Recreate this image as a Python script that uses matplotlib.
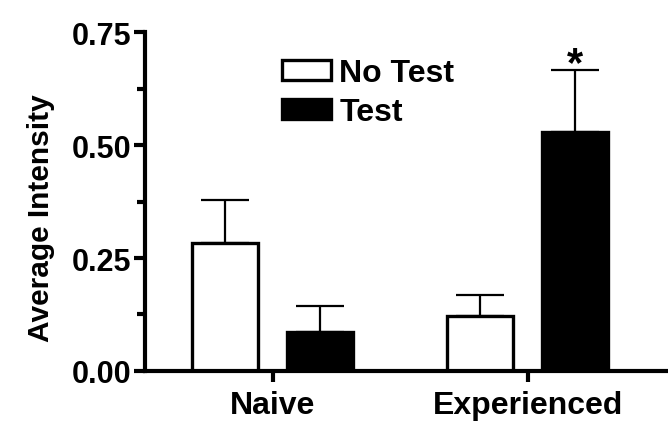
import matplotlib
import matplotlib.pyplot as plt
import numpy as np

matplotlib.use("Agg")

groups = ["Naive", "Experienced"]
no_test = [0.283, 0.122]
no_test_err = [0.095, 0.046]
test = [0.086, 0.529]
test_err = [0.058, 0.137]

plt.rcParams["font.family"] = ["Liberation Sans", "DejaVu Sans"]
plt.rcParams["font.weight"] = "bold"

fig = plt.figure(figsize=(6.68, 4.31), dpi=100)
ax = fig.add_axes([0.217, 0.137, 0.783, 0.786])

x = np.arange(len(groups))
w = 0.26
off = 0.186
err_kw = dict(ecolor="black", elinewidth=1.6, capsize=17, capthick=1.6)

ax.bar(x - off, no_test, w, color="white", edgecolor="black", linewidth=2.4,
       yerr=[[0] * len(groups), no_test_err], error_kw=err_kw, label="No Test", zorder=2)
ax.bar(x + off, test, w, color="black", edgecolor="black", linewidth=2.4,
       yerr=[[0] * len(groups), test_err], error_kw=err_kw, label="Test", zorder=2)

# significance marker
ax.text(x[1] + off, test[1] + test_err[1] - 0.03, "*", ha="center", va="bottom",
        fontsize=30, fontweight="bold")

ax.set_xlim(-0.5, 1.55)
ax.set_ylim(0, 0.75)
ax.set_yticks([0, 0.25, 0.5, 0.75])
ax.set_yticklabels(["0.00", "0.25", "0.50", "0.75"])
ax.set_yticks([0.125, 0.375, 0.625], minor=True)
ax.set_xticks(x)
ax.set_xticklabels(groups)

for side in ["top", "right"]:
    ax.spines[side].set_visible(False)
for side in ["left", "bottom"]:
    ax.spines[side].set_linewidth(3)
    ax.spines[side].set_capstyle("projecting")

ax.tick_params(axis="y", which="major", length=8, width=3, labelsize=22, pad=2)
ax.tick_params(axis="y", which="minor", length=6, width=3)
ax.tick_params(axis="x", length=8, width=3, labelsize=23, pad=6)
for lab in ax.get_xticklabels() + ax.get_yticklabels():
    lab.set_fontweight("bold")

ax.set_ylabel("Average Intensity", fontsize=21.5, fontweight="bold")
ax.yaxis.set_label_coords(-0.172, 0.454)

ax.legend(loc="upper left", bbox_to_anchor=(0.422, 0.862), bbox_transform=fig.transFigure,
          frameon=False, fontsize=23, handlelength=1.55, handleheight=0.6,
          handletextpad=0.25, labelspacing=0.28, borderaxespad=0, borderpad=0)

fig.savefig("out.png", dpi=100)
